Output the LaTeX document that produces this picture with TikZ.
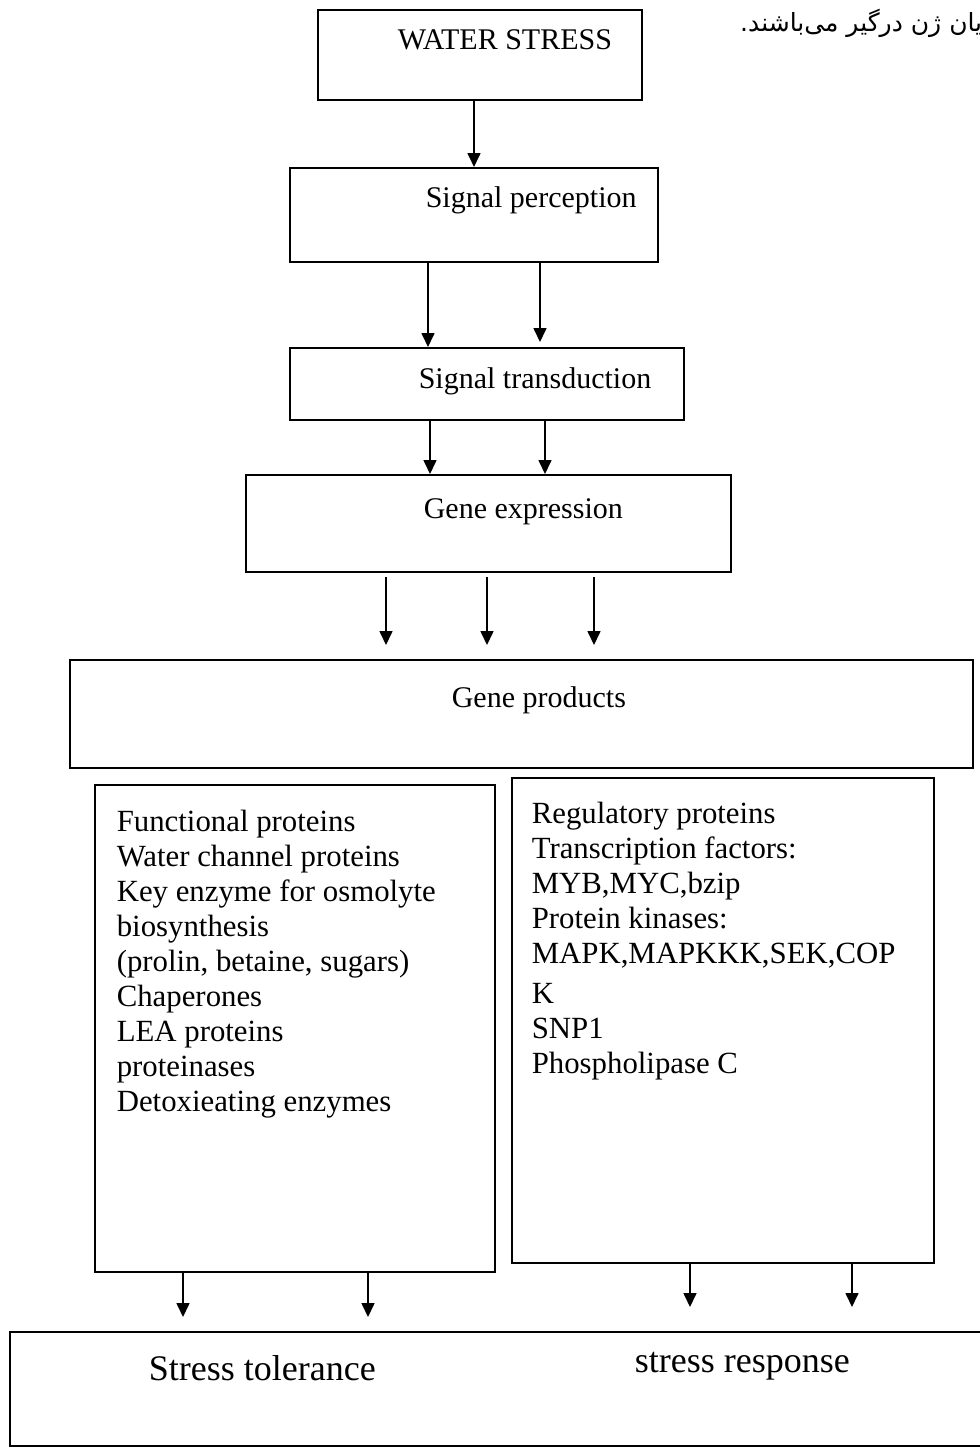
\documentclass[tikz,border=0pt]{standalone}
\usepackage{fontspec}
\setmainfont{Liberation Serif}
\newfontfamily\persianfont[Script=Arabic]{DejaVu Sans}
\TeXXeTstate=1
\usepackage{tikz}
\usetikzlibrary{arrows.meta}
\usetikzlibrary{fit}
\newcommand{\boxfont}{\fontsize{15}{17.5}\selectfont}
\newcommand{\listfont}{\fontsize{15.4}{17.5}\selectfont}
\newcommand{\outfont}{\fontsize{18}{21}\selectfont}
\tikzset{
  main box/.style={draw,line width=1pt,inner sep=0pt},
  box text/.style={font=\boxfont,inner sep=0pt,anchor=base west},
  list text/.style={font=\listfont,inner sep=0pt,anchor=north west,align=left},
  out text/.style={font=\outfont,inner sep=0pt,anchor=base west}
}
\begin{document}
\begin{tikzpicture}[->,>={Triangle[length=7pt,width=6.5pt]},line width=0.8pt,
        x=0.5pt,y=-0.5pt]
  \useasboundingbox (0,0) rectangle (980,1452);
  \node [box text,anchor=base east,font=\persianfont\fontsize{12.5}{14}\selectfont] (note) at (983,31) {\beginR یان ژن درگیر می‌باشند.\endR};
  % boxes
  \node [main box,fit={(318,10) (642,100)}] (ws) {};
  \node [main box,fit={(290,168) (658,262)}] (sp) {};
  \node [main box,fit={(290,348) (684,420)}] (st) {};
  \node [main box,fit={(246,475) (731,572)}] (ge) {};
  \node [main box,fit={(70,660) (973,768)}] (gp) {};
  \node [main box,fit={(95,785) (495,1272)}] (fp) {};
  \node [main box,fit={(512,778) (934,1263)}] (rp) {};
  \node [main box,fit={(10,1332) (990,1446)}] (sr) {};
  % texts
  \node [box text] (ws text) at (397,49) {WATER STRESS};
  \node [box text] (sp text) at (425,207) {Signal perception};
  \node [box text] (st text) at (418,388) {Signal transduction};
  \node [box text] (ge text) at (423,518) {Gene expression};
  \node [box text] (gp text) at (451,707) {Gene products};
  \node [list text] (fp text) at (116,809) {Functional proteins\\ Water channel proteins\\
        Key enzyme for osmolyte\\ biosynthesis\\ (prolin, betaine, sugars)\\ Chaperones\\
        LEA proteins\\ proteinases\\ Detoxieating enzymes};
  \node [list text] (rp text) at (531,801) {Regulatory proteins\\ Transcription factors:\\
        MYB,MYC,bzip\\ Protein kinases:\\ MAPK,MAPKKK,SEK,COP\\[2.5pt] K\\ SNP1\\ Phospholipase C};
  \node [out text] (tol text) at (148,1380) {Stress tolerance};
  \node [out text] (resp text) at (634,1372) {stress response};
  % arrows
  \draw ([xshift=-3pt]ws.south) -- (sp.north);
  \draw ([xshift=-23pt]sp.south) -- ([xshift=-29.5pt]st.north);
  \draw [shorten >=2.5pt] ([xshift=33pt]sp.south) -- ([xshift=26.5pt]st.north);
  \draw ([xshift=-28.5pt]st.south) -- ([xshift=-29.25pt]ge.north);
  \draw ([xshift=29pt]st.south) -- ([xshift=28.25pt]ge.north);
  \draw [shorten <=2pt,shorten >=7pt] ([xshift=-51.25pt]ge.south) -- ([xshift=-67.75pt]gp.north);
  \draw [shorten <=2pt,shorten >=7pt] ([xshift=-0.75pt]ge.south) -- ([xshift=-17.25pt]gp.north);
  \draw [shorten <=2pt,shorten >=7pt] ([xshift=52.75pt]ge.south) -- ([xshift=36.25pt]gp.north);
  \draw [shorten >=7pt] ([xshift=-56pt]fp.south) -- ([xshift=-158.5pt]sr.north);
  \draw [shorten >=7pt] ([xshift=36.5pt]fp.south) -- ([xshift=-66pt]sr.north);
  \draw [shorten >=12pt] ([xshift=-16.5pt]rp.south) -- ([xshift=95pt]sr.north);
  \draw [shorten >=12pt] ([xshift=64.5pt]rp.south) -- ([xshift=176pt]sr.north);
\end{tikzpicture}
\end{document}
